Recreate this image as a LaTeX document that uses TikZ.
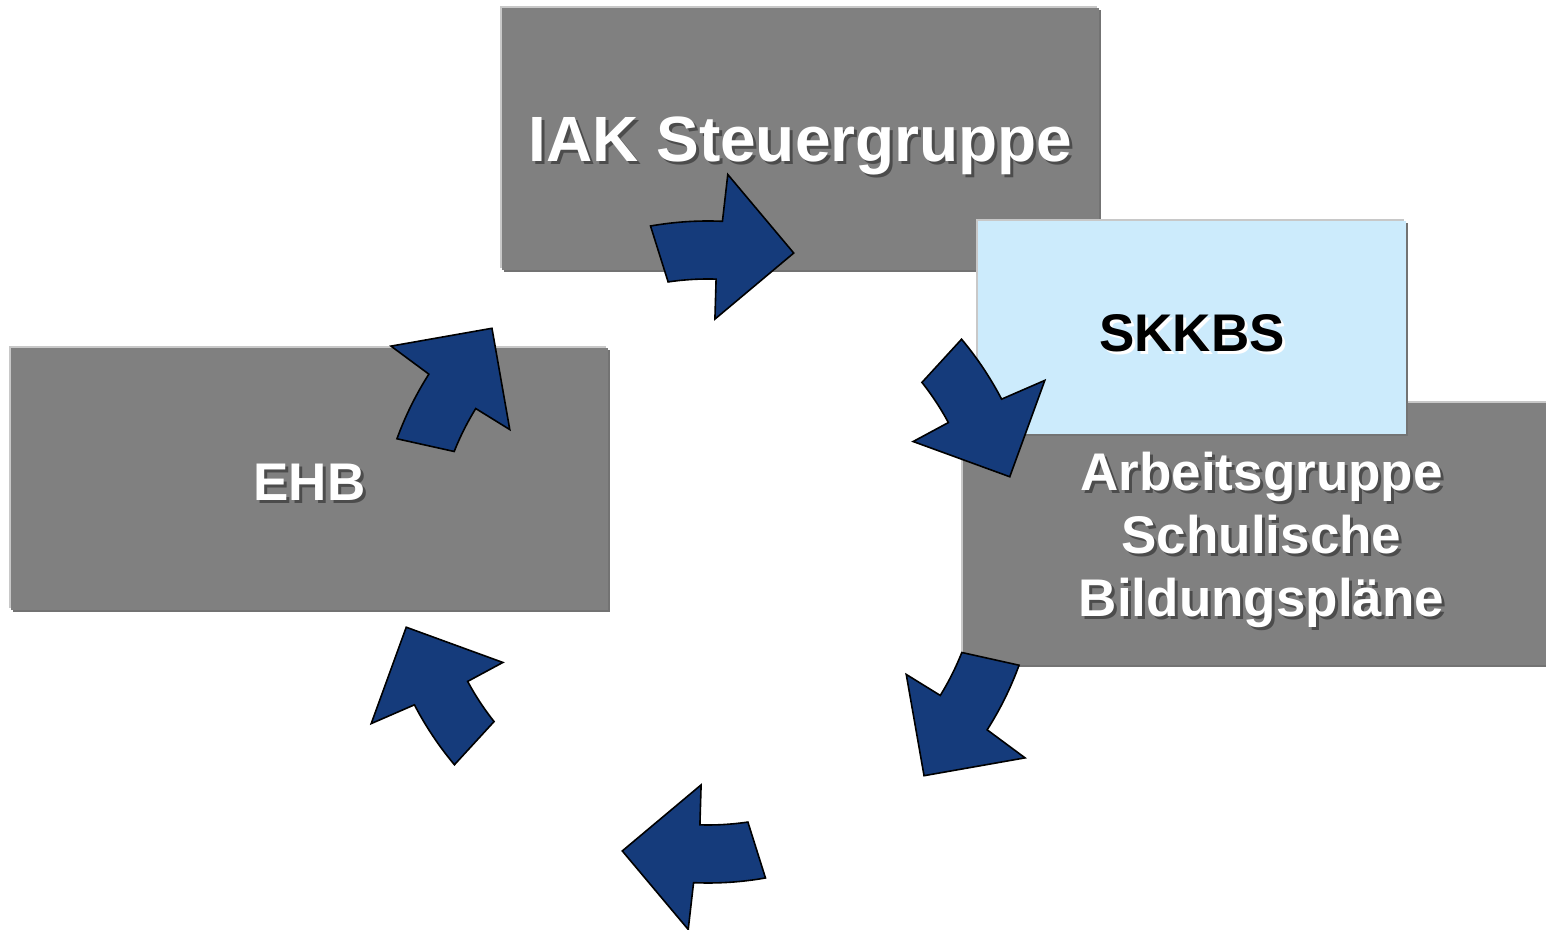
\documentclass[tikz,border=0pt]{standalone}
\usepackage{fontspec}
\setmainfont{Liberation Sans}
\usetikzlibrary{shadows}
\definecolor{boxgray}{HTML}{808080}
\definecolor{boxedge}{HTML}{C8C8C8}
\definecolor{skkblue}{HTML}{CCEBFC}
\definecolor{arrowblue}{HTML}{153B7B}
\newcommand\txtshadow[2][black!70]{\leavevmode\rlap{\kern1.5pt\raisebox{-1.5pt}{\textcolor{#1}{#2}}}#2}
\begin{document}
\begin{tikzpicture}[box/.style={rectangle, fill=boxgray, text=white, inner sep=0pt, align=center, text depth=0pt, font=\bfseries\fontsize{26.5}{31.5}\selectfont, minimum width=298.5pt, minimum height=131pt, general shadow={fill=boxedge, shadow xshift=-1.2pt, shadow yshift=1.2pt}, drop shadow={fill=black!55, opacity=1, shadow xshift=1pt, shadow yshift=-1pt}}, cyclearrow/.style={fill=arrowblue, draw=black, line width=0.8pt, line join=miter}]
\useasboundingbox (0pt, 0pt) rectangle (773pt, 465pt);
\draw (400.25pt, 395.5pt)node[box, font=\bfseries\fontsize{32}{38}\selectfont](iak){\txtshadow{IAK Steuergruppe}};
\draw (154.75pt, 225.25pt)node[box, text height=21pt](ehb){\txtshadow{EHB}};
\draw (630.75pt, 198pt)node[box](ag){\txtshadow{Arbeitsgruppe}\\\txtshadow{Schulische}\\\txtshadow{Bildungspläne}};
\draw (596pt, 301.25pt)node[box, fill=skkblue, text=black, text height=24pt, minimum width=214pt, minimum height=106.5pt](skkbs){\txtshadow[white]{SKKBS}};
% six curved arrows round the cycle
\begin{scope}[shift={(354pt, 189pt)}]
\foreach \k in {0,...,5}
  \draw[cyclearrow, rotate=-60*\k] (100:165.5pt) arc[start angle=100, end angle=87.5, radius=165.5pt] -- (87:189pt) -- (74:155.5pt) -- (88.3:116.5pt) -- (88.3:136.5pt) arc[start angle=88.3, end angle=98.4, radius=136.5pt] -- cycle;
\end{scope}
\end{tikzpicture}
\end{document}
